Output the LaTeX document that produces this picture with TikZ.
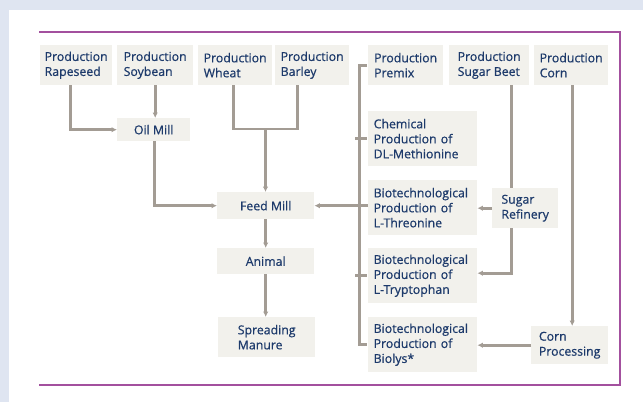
\documentclass[tikz,border=0pt]{standalone}
\usepackage{fontspec}
\setmainfont{Open Sans}[BoldFont={Open Sans}, BoldFeatures={FakeBold=0.6}]
\usetikzlibrary{arrows.meta,calc}
\definecolor{pagebg}{HTML}{DFE5F1}
\definecolor{boxfill}{HTML}{F2F1EC}
\definecolor{flowline}{HTML}{A39C94}
\definecolor{framepurple}{HTML}{A3509E}
\definecolor{labelblue}{HTML}{1D3A6B}
\tikzset{
  box/.style={fill=boxfill, draw=none, inner sep=0pt, align=left,
    anchor=north west, text=labelblue,
    font=\fontsize{12.3}{15}\selectfont\bfseries},
  conn/.style={draw=flowline, line width=2.6pt},
  arr/.style={conn, -{Latex[length=5.5pt,width=5.5pt]}},
}
\begin{document}
\begin{tikzpicture}[x=1pt,y=-1pt]
  % page and open frame
  \fill[pagebg] (0,0) rectangle (643,402);
  \fill[white] (9,10) rectangle (643,402);
  \draw[framepurple, line width=2pt] (39,32) -- (619.5,32) -- (619.5,385) -- (39,385);
  \useasboundingbox (0,0) rectangle (643,402);

  % top row of producers
  \node[box, minimum width=72pt, minimum height=40pt] (rape) at (40,45) {Production\\Rapeseed};
  \node[box, minimum width=76pt, minimum height=40pt] (soy) at (117,45) {Production\\Soybean};
  \node[box, minimum width=74pt, minimum height=40pt] (wheat) at (198,45) {Production\\Wheat};
  \node[box, minimum width=74pt, minimum height=40pt] (barley) at (275,45) {Production\\Barley};
  \node[box, minimum width=75pt, minimum height=40pt] (premix) at (368,45) {Production\\Premix};
  \node[box, minimum width=80pt, minimum height=40pt] (beet) at (449,45) {Production\\Sugar Beet};
  \node[box, minimum width=74pt, minimum height=40pt] (corn) at (534,45) {Production\\Corn};

  % processing chain on the left
  \node[box, minimum width=73pt, minimum height=23pt] (oil) at (117,118) {Oil Mill};
  \node[box, minimum width=97pt, minimum height=27pt] (feed) at (217,192) {Feed Mill};
  \node[box, minimum width=97pt, minimum height=26pt] (animal) at (217,248) {Animal};
  \node[box, minimum width=97pt, minimum height=40pt] (manure) at (218,317) {Spreading\\Manure};

  % amino acid production
  \node[box, text width=98pt, inner xsep=5.5pt, minimum height=55pt] (chem) at (368,111) {Chemical\\Production of\\DL-Methionine};
  \node[box, text width=98pt, inner xsep=5.5pt, minimum height=55pt] (thr) at (368,180) {Biotechnological\\Production of\\L-Threonine};
  \node[box, text width=98pt, inner xsep=5.5pt, minimum height=55pt] (tryp) at (368,248) {Biotechnological\\Production of\\L-Tryptophan};
  \node[box, text width=98pt, inner xsep=5.5pt, minimum height=55pt] (biolys) at (368,317) {Biotechnological\\Production of\\Biolys*};

  % raw material processing on the right
  \node[box, minimum width=66pt, minimum height=40pt] (refinery) at (492,188) {Sugar\\Refinery};
  \node[box, minimum width=77pt, minimum height=38pt] (cornproc) at (531,326) {Corn\\Processing};

  % oilseeds
  \draw[arr] ([xshift=-6pt]rape.south) |- (oil.west);
  \draw[arr] (soy.south) -- (soy.south |- oil.north);
  \draw[arr] ([xshift=1pt]oil.south) |- (feed.west);

  % cereals
  \coordinate (grainjoin) at (265.5,129);
  \draw[conn] ([xshift=-2pt]wheat.south) |- (grainjoin) -| ([xshift=-15pt]barley.south);
  \draw[arr] (grainjoin) -- (grainjoin |- feed.north);
  \draw[arr] (feed.south) -- (animal.north);
  \draw[arr] (animal.south) -- (animal.south |- manure.north);

  % premix bracket collecting the amino acids
  \draw[conn] ([xshift=-1pt]premix.west) -- ++(-7.5,0) |- ([xshift=-1pt]biolys.west);
  \draw[conn] ([xshift=-13pt]chem.west) -- ([xshift=-1pt]chem.west);
  \draw[conn] ([xshift=-13pt]tryp.west) -- ([xshift=-1pt]tryp.west);
  \draw[arr] (thr.west |- feed.east) -- (feed.east);

  % sugar and corn
  \draw[conn] ([xshift=22pt]beet.south) -- ([xshift=22pt]beet.south |- refinery.north);
  \draw[arr] (refinery.west) -- (refinery.west -| thr.east);
  \draw[arr] ([xshift=-14pt]refinery.south) |- ([yshift=2.5pt]tryp.east);
  \draw[arr] ([xshift=1pt]corn.south) -- ([xshift=1pt]corn.south |- cornproc.north);
  \draw[arr] (cornproc.west) -- (cornproc.west -| biolys.east);
\end{tikzpicture}
\end{document}
